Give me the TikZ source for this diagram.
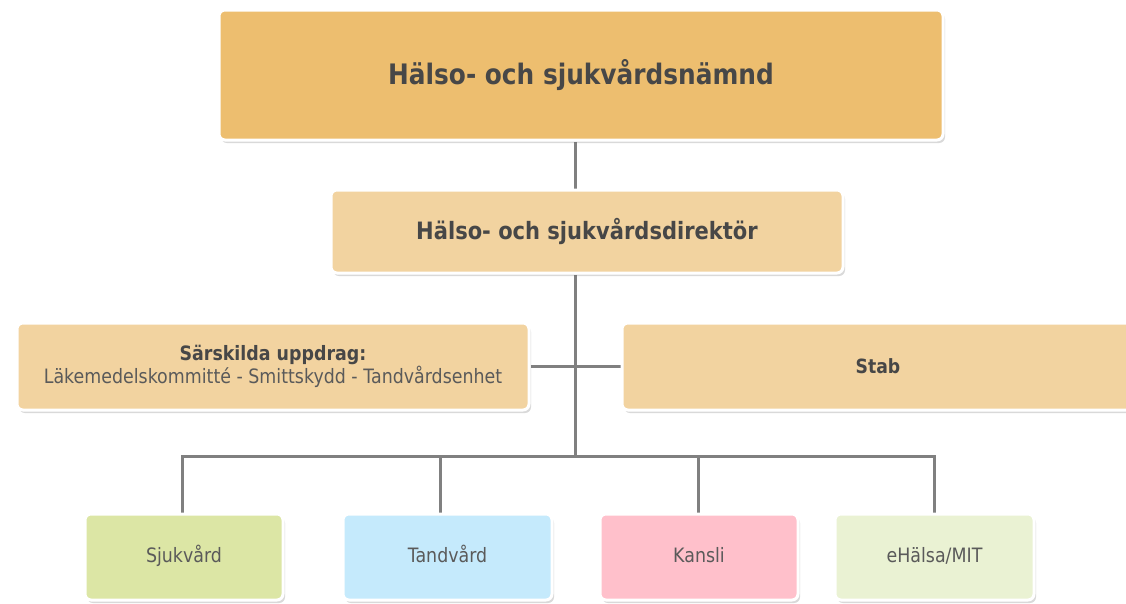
\documentclass[tikz,border=0pt]{standalone}
\usepackage{fontspec}
\setmainfont{DejaVu Sans}[FakeStretch=0.88]
\usetikzlibrary{shadows,backgrounds}
\definecolor{topc}{HTML}{EDBE6F}
\definecolor{midc}{HTML}{F2D3A0}
\definecolor{sjukc}{HTML}{DCE6A5}
\definecolor{tandc}{HTML}{C5EAFC}
\definecolor{kansc}{HTML}{FFC0CB}
\definecolor{ehalc}{HTML}{EAF2D3}
\definecolor{txtb}{HTML}{474747}
\definecolor{txtn}{HTML}{5A5A5A}
\definecolor{linec}{HTML}{808080}
\tikzset{
  box/.style={rectangle, rounded corners=6pt, draw=white, line width=3pt,
    drop shadow={shadow xshift=2pt, shadow yshift=-3pt, opacity=0.25, fill=black!60},
    align=center, inner sep=0pt},
  leaf/.style={box, minimum height=86pt, text=txtn, text height=14pt, text depth=4pt,
    font=\fontsize{19.8}{23}\selectfont},
  conn/.style={draw=linec, line width=3pt},
}
\begin{document}
\begin{tikzpicture}[x=1pt,y=-1pt]
\useasboundingbox (0,0) rectangle (1126,603);
\clip (0,0) rectangle (1126,603);
\node[box, fill=topc, minimum width=724pt, minimum height=130pt, text=txtb,
  font=\fontsize{28.2}{32}\selectfont\bfseries] (top) at (581,75) {Hälso- och sjukvårdsnämnd};
\node[box, fill=midc, minimum width=512pt, minimum height=83pt, text=txtb,
  font=\fontsize{23.9}{28}\selectfont\bfseries] (dir) at (587,231.5) {Hälso- och sjukvårdsdirektör};
\node[box, fill=midc, minimum width=512pt, minimum height=87pt, text=txtn,
  font=\fontsize{19.8}{23}\selectfont] (sars) at (273,366.5)
  {{\color{txtb}\bfseries Särskilda uppdrag:}\\Läkemedelskommitté - Smittskydd - Tandvårdsenhet};
\node[box, fill=midc, minimum width=512pt, minimum height=87pt, text=txtb,
  font=\fontsize{19.6}{23}\selectfont\bfseries] (stab) at (878,366.5) {Stab};
\node[leaf, fill=sjukc, minimum width=198pt] (sjuk) at (184,557) {Sjukvård};
\node[leaf, fill=tandc, minimum width=209pt] (tand) at (447.5,557) {Tandvård};
\node[leaf, fill=kansc, minimum width=198pt] (kans) at (699,557) {Kansli};
\node[leaf, fill=ehalc, minimum width=199pt] (ehal) at (934.5,557) {eHälsa/MIT};
\coordinate (trunk) at (575,456);
\coordinate (d1) at (182,456);
\coordinate (d2) at (440,456);
\coordinate (d3) at (698,456);
\coordinate (d4) at (934,456);
\begin{scope}[on background layer]
\draw[conn] (top.south -| trunk) -- (dir.north -| trunk);
\draw[conn] (dir.south -| trunk) -- (trunk);
\draw[conn] (sars.east) -- (stab.west);
\draw[conn] (sjuk.north -| d1) -- (d1) -- (d4) -- (ehal.north -| d4);
\draw[conn] (tand.north -| d2) -- (d2);
\draw[conn] (kans.north -| d3) -- (d3);
\end{scope}
\end{tikzpicture}
\end{document}
